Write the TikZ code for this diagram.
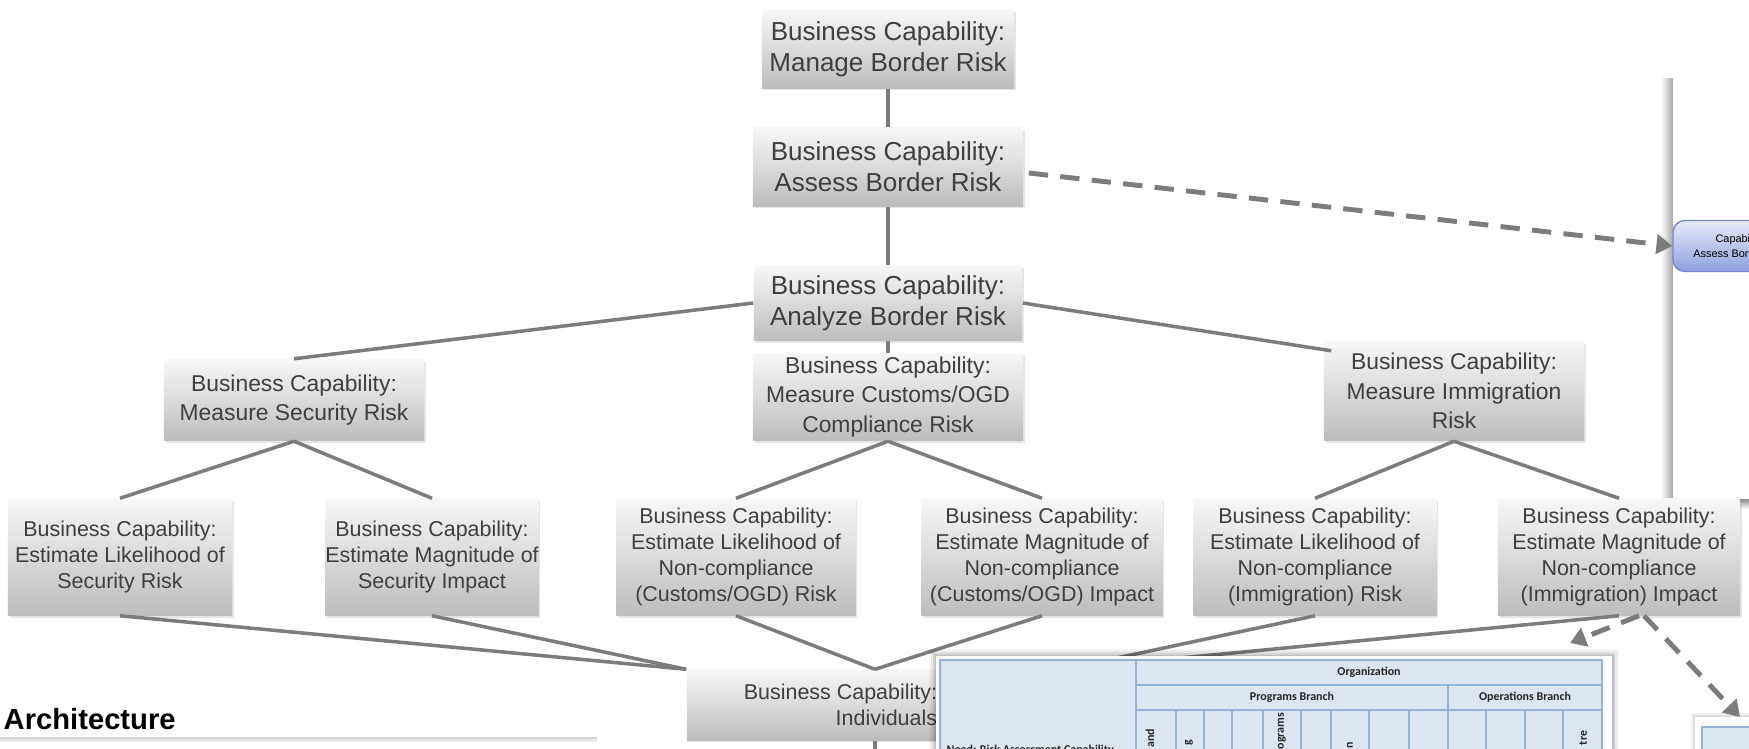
\documentclass[tikz,border=0pt]{standalone}
\usepackage{fontspec}
\setmainfont{Liberation Sans}
\newfontfamily\tabfont{Carlito}
\usetikzlibrary{arrows.meta,shadows}

\definecolor{linegray}{HTML}{7C7C7C}
\definecolor{textgray}{HTML}{3F3F3F}
\definecolor{cellblue}{HTML}{DCE6F1}
\definecolor{ruleblue}{HTML}{95B3D7}
\definecolor{pilltop}{HTML}{E8EBF8}
\definecolor{pillbot}{HTML}{8E9FDF}
\definecolor{pillrule}{HTML}{7586CF}

\begin{document}
\begin{tikzpicture}[x=0.01cm, y=-0.01cm,
	capbox/.style={top color=black!3, bottom color=black!26, text=textgray, align=center, inner sep=0pt,
		drop shadow={opacity=0.2, shadow xshift=0.5pt, shadow yshift=-0.7pt}},
	capbig/.style={capbox, font=\fontsize{7.4}{8.9}\selectfont},
	capmid/.style={capbox, font=\fontsize{6.5}{8.3}\selectfont},
	capsml/.style={capbox, font=\fontsize{6.1}{7.45}\selectfont},
	link/.style={draw=linegray, line width=1pt},
	dashlink/.style={draw=linegray, line width=1.4pt, dash pattern=on 5.5pt off 3.5pt,
		-{Triangle[length=4.5pt,width=5.5pt]}},
	pill/.style={draw=pillrule, line width=0.4pt, rounded corners=0.12cm, top color=pilltop, bottom color=pillbot,
		minimum width=1.36cm, minimum height=0.51cm, inner sep=0pt, align=center,
		font=\fontsize{3.1}{4.3}\selectfont},
	tabtext/.style={inner sep=0pt, text=black!85, font=\tabfont\bfseries\fontsize{3.4}{4}\selectfont},
	rule/.style={draw=ruleblue, line width=0.5pt}]

\clip (0,0) rectangle (1749,748);
\fill[white] (0,0) rectangle (1749,748);

% panel on the right
\shade[left color=white, right color=black!35] (1661,78) rectangle (1673,505);
\shade[top color=black!45, bottom color=white] (1673,499) rectangle (1760,509);
\fill[white] (1673,78) rectangle (1760,499);
\node[pill] (pill) at (1741,246) {Capability:\\Assess Border Risk};

% capability tree
\node[capbig, minimum width=2.52cm, minimum height=0.78cm] (manage) at (888,49) {Business Capability:\\Manage Border Risk};
\node[capbig, minimum width=2.70cm, minimum height=0.78cm] (assess) at (888,167) {Business Capability:\\Assess Border Risk};
\node[capbig, minimum width=2.68cm, minimum height=0.75cm] (analyze) at (888,303) {Business Capability:\\Analyze Border Risk};

\node[capmid, minimum width=2.60cm, minimum height=0.81cm] (secrisk) at (294,400) {Business Capability:\\Measure Security Risk};
\node[capmid, minimum width=2.70cm, minimum height=0.87cm] (custrisk) at (888,397) {Business Capability:\\Measure Customs/OGD\\Compliance Risk};
\node[capmid, minimum width=2.60cm, minimum height=0.99cm] (immrisk) at (1454,391) {Business Capability:\\Measure Immigration\\Risk};

\node[capsml, minimum width=2.24cm, minimum height=1.16cm] (seclike) at (120,557) {Business Capability:\\Estimate Likelihood of\\Security Risk};
\node[capsml, minimum width=2.13cm, minimum height=1.16cm] (secmag) at (432,557) {Business Capability:\\Estimate Magnitude of\\Security Impact};
\node[capsml, minimum width=2.39cm, minimum height=1.16cm] (custlike) at (736,557) {Business Capability:\\Estimate Likelihood of\\Non-compliance\\(Customs/OGD) Risk};
\node[capsml, minimum width=2.41cm, minimum height=1.16cm] (custmag) at (1042,557) {Business Capability:\\Estimate Magnitude of\\Non-compliance\\(Customs/OGD) Impact};
\node[capsml, minimum width=2.43cm, minimum height=1.16cm] (immlike) at (1315,557) {Business Capability:\\Estimate Likelihood of\\Non-compliance\\(Immigration) Risk};
\node[capsml, minimum width=2.42cm, minimum height=1.16cm] (immmag) at (1619,557) {Business Capability:\\Estimate Magnitude of\\Non-compliance\\(Immigration) Impact};

\node[capsml, minimum width=3.76cm, minimum height=0.70cm, align=right] (indiv) at (875,705) {Business Capability:\hspace*{0.69cm}\\Individuals\hspace*{0.69cm}};

\draw[link] (manage) -- (assess);
\draw[link] (assess) -- (analyze);
\draw[link] (analyze) -- (custrisk);
\draw[link] (analyze.west) -- (secrisk.north);
\draw[link] (analyze.east) -- ([shift={(8,10)}]immrisk.north west);
\draw[link] (secrisk.south) -- (seclike.north);
\draw[link] (secrisk.south) -- (secmag.north);
\draw[link] (custrisk.south) -- (custlike.north);
\draw[link] (custrisk.south) -- (custmag.north);
\draw[link] (immrisk.south) -- (immlike.north);
\draw[link] (immrisk.south) -- (immmag.north);
\draw[link] (seclike.south) -- (indiv.north west);
\draw[link] (secmag.south) -- (indiv.north west);
\draw[link] (custlike.south) -- (indiv.north);
\draw[link] (custmag.south) -- (indiv.north);
\draw[link] (immlike.south) -- (indiv.north east);
\draw[link] (immmag.south) -- (indiv.north east);
\coordinate (below) at (875,790);
\draw[link] (indiv.south) -- (below);

\draw[dashlink] ([shift={(5,6)}]assess.east) -- (pill.west);

% table
\foreach \s/\o in {7/0.04, 5/0.06, 3/0.08, 1.5/0.1}
	\fill[black, opacity=\o] (936-\s,656-\s) rectangle (1612+\s,790);
\fill[white] (936,656) rectangle (1612,790);
\fill[cellblue] (940,660) rectangle (1602,790);
\draw[rule] (940,790) -- (940,660) -- (1602,660) -- (1602,790);
\draw[rule] (1136,660) -- (1136,790);
\draw[rule] (1136,685) -- (1602,685);
\draw[rule] (1136,710) -- (1602,710);
\draw[rule] (1448,685) -- (1448,790);
\foreach \cx in {1176,1204,1232,1263,1301,1331,1369,1409,1486,1525,1563}
	\draw[rule] (\cx,710) -- (\cx,790);
\node[tabtext] (orgname) at (1369,672.5) {Organization};
\node[tabtext] (progbranch) at (1292,697.5) {Programs Branch};
\node[tabtext] (opsbranch) at (1525,697.5) {Operations Branch};
\node[tabtext, anchor=base west] (capcol) at (946,753) {Need: Risk Assessment Capability};
\node[tabtext, rotate=90, anchor=east] (colone) at (1150,728) {and};
\node[tabtext, rotate=90, anchor=east] (coltwo) at (1189,739) {g};
\node[tabtext, rotate=90, anchor=east] (colfive) at (1282,712) {ograms};
\node[tabtext, rotate=90, anchor=east] (colseven) at (1350,741) {n};
\node[tabtext, rotate=90, anchor=east] (collast) at (1583,730) {tre};

% small card, bottom right
\foreach \s/\o in {4/0.05, 2/0.08}
	\fill[black, opacity=\o] (1695-\s,717-\s) rectangle (1760,790);
\fill[white] (1695,717) rectangle (1760,790);
\fill[cellblue] (1702,727) rectangle (1760,790);
\draw[rule] (1702,790) -- (1702,727) -- (1760,727);

\coordinate (tabtip) at (1570,643);
\coordinate (cardtip) at (1740,717);
\draw[dashlink] ([xshift=0.2cm]immmag.south) -- (tabtip);
\draw[dashlink] ([xshift=0.25cm]immmag.south) -- (cardtip);

% architecture panel
\node[anchor=base west, inner sep=0pt, font=\bfseries\fontsize{8.3}{10}\selectfont] (archlabel) at (3,729) {Architecture};
\shade[top color=black!18, bottom color=white] (0,737) rectangle (597,743);
\fill[white] (0,742) rectangle (597,790);
\end{tikzpicture}
\end{document}
